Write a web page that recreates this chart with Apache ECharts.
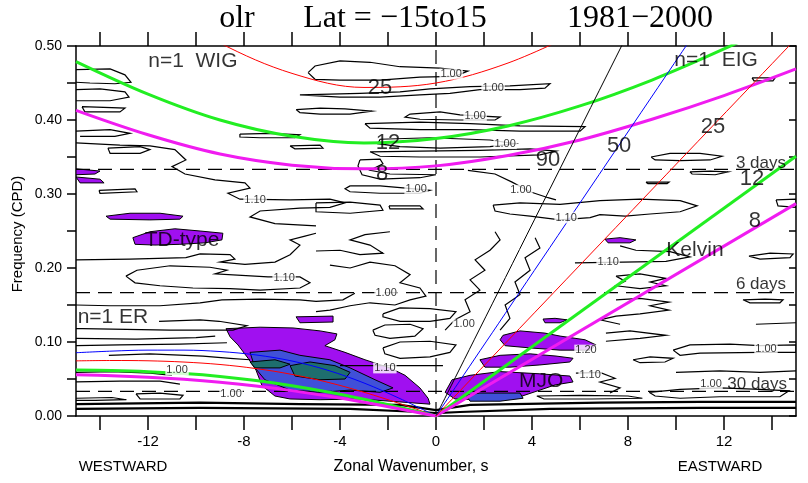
<!DOCTYPE html>
<html><head><meta charset="utf-8">
<script src="https://cdn.jsdelivr.net/npm/echarts@6/dist/echarts.min.js"></script>
<style>html,body{margin:0;padding:0;background:#fff}#c{width:808px;height:483px}</style>
</head><body><div id="c"></div>
<script>
// ---------- axis ticks ----------
var xTicks = [-14,-12,-10,-8,-6,-4,-2,0,2,4,6,8,10,12,14];
var xTickLabels = [-12,-8,-4,0,4,8,12];
var yTicks = [0,0.05,0.1,0.15,0.2,0.25,0.3,0.35,0.4,0.45,0.5];
var yTickLabels = [0,0.1,0.2,0.3,0.4,0.5];

// ---------- dispersion curves ----------
var sIG = [-15,-12,-9,-6,-3,0,3,6,9,12,15];
var ig8  = [0.413,0.380,0.354,0.339,0.334,0.338,0.352,0.373,0.401,0.433,0.469];
var ig12 = [0.479,0.435,0.400,0.378,0.369,0.375,0.392,0.419,0.454,0.496,0.542];
var sIG25 = [-12,-9,-6,-3,0,3,6];
var ig25 = [0.562,0.504,0.463,0.444,0.450,0.477,0.520];
var sER = [-15,-13.5,-12,-10.5,-9,-7.5,-6,-4.5,-3,-1.5,0];
var er8  = [0.0556,0.0544,0.0524,0.0495,0.0456,0.0405,0.0343,0.0269,0.0186,0.0095,0];
var er12 = [0.0623,0.0615,0.0599,0.0573,0.0534,0.0480,0.0410,0.0325,0.0226,0.0116,0];
var er25 = [0.0745,0.0750,0.0746,0.0729,0.0696,0.0641,0.0562,0.0455,0.0321,0.0167,0];
var er50 = [0.0855,0.0877,0.0890,0.0890,0.0871,0.0825,0.0743,0.0617,0.0446,0.0235,0];
var sKelvin = [0,15];
var kel8 = [0,0.287], kel12 = [0,0.351], kel25 = [0,0.51], kel50 = [0,0.72], kel90 = [0,0.97];
var periodDays = [3,6,30];

// ---------- shaded power regions ----------
var purpleAreas = [
 [[-8.75,0.118],[-7.33,0.12],[-5.96,0.119],[-4.83,0.115],[-4.13,0.111],[-4.21,0.103],[-4.63,0.095],[-3.79,0.086],[-2.96,0.076],[-1.92,0.065],[-1.29,0.055],[-0.67,0.038],[-0.33,0.024],[-0.25,0.016],[-1.08,0.018],[-1.92,0.02],[-3.17,0.023],[-4.83,0.022],[-6.08,0.023],[-6.71,0.027],[-7.25,0.041],[-7.5,0.062],[-7.83,0.078],[-8.25,0.096],[-8.58,0.107]],
 [[-5.83,0.134],[-4.29,0.135],[-4.29,0.127],[-5.67,0.126]],
 [[-12.63,0.241],[-11.92,0.249],[-10.88,0.253],[-9.83,0.25],[-8.88,0.247],[-8.92,0.238],[-9.63,0.234],[-10.67,0.232],[-11.71,0.231],[-12.54,0.232]],
 [[-13.75,0.27],[-12.75,0.274],[-11.5,0.274],[-10.54,0.27],[-10.67,0.266],[-11.92,0.265],[-13.58,0.266]],
 [[-15,0.334],[-14,0.331],[-14.21,0.327],[-15,0.326]],
 [[-15,0.323],[-14,0.32],[-13.83,0.315],[-14.83,0.315]],
 [[2.79,0.109],[3.5,0.115],[4.54,0.112],[5.17,0.108],[6.21,0.103],[6.67,0.096],[6.42,0.089],[5.17,0.089],[3.92,0.092],[2.88,0.095],[2.67,0.103]],
 [[1.83,0.076],[2.67,0.082],[3.92,0.084],[5,0.081],[5.71,0.078],[5.58,0.073],[4.33,0.069],[3.08,0.066],[2.04,0.066]],
 [[0.67,0.049],[1.42,0.055],[2.67,0.06],[4.33,0.057],[5.58,0.054],[5.71,0.046],[4.96,0.042],[4.33,0.035],[3.5,0.026],[1.83,0.022],[0.79,0.023],[0.38,0.032]],
 [[4.46,0.131],[4.96,0.132],[5.46,0.13],[5.17,0.126],[4.54,0.126]],
 [[7.04,0.239],[7.67,0.241],[8.33,0.238],[8.08,0.234],[7.17,0.234]]
];
var blueAreas = [
 [[-7.75,0.086],[-6.5,0.089],[-5.67,0.082],[-4.42,0.076],[-3.58,0.065],[-2.54,0.049],[-1.79,0.038],[-2.33,0.032],[-3.58,0.035],[-4.83,0.032],[-6.08,0.035],[-7.13,0.049],[-7.54,0.065]],
 [[1.25,0.028],[1.83,0.031],[3.5,0.031],[3.63,0.024],[2.67,0.02],[1.42,0.02]]
];
var tealAreas = [
 [[-6.08,0.068],[-5.25,0.073],[-4.21,0.068],[-3.58,0.059],[-3.79,0.05],[-4.83,0.049],[-5.88,0.054]],
 [[-7.75,0.073],[-6.71,0.076],[-6.08,0.07],[-6.5,0.065],[-7.54,0.065]]
];

// ---------- contour lines ----------
var contourLines = [
 [[-15,0.468],[-13.58,0.469],[-12.96,0.461],[-12.71,0.451],[-13.38,0.449],[-14.42,0.45],[-15,0.451]],
 [[-15,0.441],[-14,0.442],[-12.96,0.438],[-12.79,0.431],[-13.58,0.426],[-15,0.426]],
 [[-14.75,0.418],[-12.96,0.416],[-13.17,0.411],[-14.63,0.411],[-14.75,0.418]],
 [[-15,0.385],[-13.58,0.387],[-12.75,0.382],[-13.38,0.378],[-14.83,0.378]],
 [[-15,0.369],[-13.17,0.366],[-11.92,0.365],[-10.88,0.36],[-10.42,0.346],[-11,0.337],[-10.46,0.327],[-9.21,0.319],[-7.96,0.315],[-7.75,0.308],[-8.67,0.301],[-8.17,0.293],[-6.08,0.292],[-4.42,0.293],[-3.79,0.288],[-4.42,0.282],[-5.67,0.281],[-7.33,0.277],[-7.75,0.269],[-6.71,0.26],[-5,0.257]],
 [[-13.67,0.362],[-12.33,0.364],[-11.92,0.36],[-12.33,0.355],[-13.58,0.355],[-13.67,0.362]],
 [[-14.04,0.305],[-12.54,0.307],[-12.46,0.303],[-14,0.301],[-14.04,0.305]],
 [[-8.17,0.381],[-6.92,0.382],[-5.67,0.38],[-5.88,0.376],[-7.33,0.376],[-8.17,0.377],[-8.17,0.381]],
 [[-6.08,0.365],[-4.83,0.366],[-4.71,0.362],[-5.88,0.361],[-6.08,0.365]],
 [[-5.33,0.464],[-5.04,0.473],[-4,0.48],[-2.75,0.478],[-1.5,0.472],[0.17,0.47],[1.33,0.466],[0.79,0.459],[-0.67,0.458],[-2.33,0.454],[-4,0.454],[-5.04,0.455],[-5.33,0.464]],
 [[-5.67,0.434],[-3.17,0.436],[-1.5,0.438],[-0.25,0.442],[1.42,0.445],[3.08,0.446],[4.75,0.449],[4.54,0.443],[3.5,0.441],[1.83,0.441],[0.58,0.436],[-0.67,0.434],[-2.33,0.431],[-4,0.431],[-5.67,0.434]],
 [[-5.83,0.414],[-4.83,0.416],[-3.79,0.415],[-2.67,0.412],[-3.58,0.408],[-4.83,0.408],[-5.67,0.41],[-5.83,0.414]],
 [[-1.08,0.408],[0.17,0.411],[1,0.407],[2.67,0.404],[2.46,0.4],[1,0.4],[-0.67,0.401],[-1.29,0.404],[-1.08,0.408]],
 [[-2.96,0.395],[-0.67,0.397],[1.42,0.395],[3.5,0.392],[6.21,0.391],[6,0.385],[3.5,0.385],[1.42,0.387],[-0.67,0.387],[-2.75,0.389],[-2.96,0.395]],
 [[-2.33,0.374],[-0.25,0.376],[2.25,0.373],[3.29,0.368],[2.25,0.364],[0.17,0.362],[-1.5,0.364],[-2.42,0.368],[-2.33,0.374]],
 [[-2.75,0.357],[-0.67,0.358],[1.83,0.359],[3.92,0.361],[5,0.358],[4.33,0.353],[1.83,0.35],[-0.67,0.35],[-2.33,0.351],[-2.75,0.357]],
 [[-3.17,0.346],[-2.33,0.347],[-2.21,0.341],[-2.75,0.332],[-1.92,0.327],[0,0.326],[-0.67,0.322],[-2.33,0.32],[-3.08,0.326],[-3.25,0.338],[-3.17,0.346]],
 [[-3.58,0.311],[-2.33,0.311],[-1.25,0.308],[-0.25,0.305],[-0.67,0.301],[-2.33,0.301],[-3.58,0.303],[-3.79,0.307],[-3.58,0.311]],
 [[-5,0.288],[-3.58,0.289],[-2.33,0.285],[-2.21,0.278],[-3.58,0.274],[-5,0.276],[-5,0.288]],
 [[-1.96,0.284],[-0.67,0.284],[-0.54,0.28],[-1.92,0.28],[-1.96,0.284]],
 [[1.33,0.332],[2.46,0.327],[3.17,0.316],[3.92,0.303],[4.67,0.295],[5,0.292]],
 [[8.96,0.35],[9.75,0.355],[11,0.355],[11.92,0.351],[11.42,0.346],[10.17,0.345],[9.13,0.346],[8.96,0.35]],
 [[10.58,0.33],[11.42,0.331],[12.17,0.33],[11.63,0.326],[10.67,0.327],[10.58,0.33]],
 [[8.75,0.316],[9.71,0.316],[9.63,0.314],[8.83,0.314],[8.75,0.316]],
 [[2.38,0.285],[3.5,0.288],[5.17,0.286],[6.83,0.291],[8.5,0.293],[10.17,0.291],[10.88,0.284],[10.17,0.276],[8.92,0.273],[7.88,0.27],[6.83,0.272],[6.42,0.268],[5.17,0.265],[3.92,0.27],[3.08,0.273],[2.46,0.277],[2.38,0.285]],
 [[14.17,0.292],[15,0.293],[15,0.282],[14.25,0.284],[14.17,0.292]],
 [[13.17,0.457],[14.13,0.457],[14.04,0.453],[13.25,0.453],[13.17,0.457]],
 [[-15,0.211],[-12.75,0.212],[-10.42,0.214],[-9.83,0.219],[-8.58,0.218],[-8.38,0.212],[-9,0.208],[-7.96,0.205],[-6.71,0.208],[-6.08,0.218],[-5.67,0.231],[-6.08,0.238],[-5.46,0.243],[-5,0.247]],
 [[-12.92,0.189],[-12.46,0.197],[-11.08,0.203],[-9.42,0.201],[-8.71,0.197],[-9.21,0.192],[-7,0.188],[-5.67,0.188],[-5.25,0.18],[-5.67,0.173],[-7.33,0.17],[-8.58,0.172],[-10.13,0.173],[-11.5,0.176],[-12.54,0.18],[-12.92,0.189]],
 [[-15,0.15],[-13.58,0.149],[-11.5,0.149],[-9.83,0.153],[-8.92,0.157],[-7.33,0.158],[-5.67,0.157],[-5,0.155],[-3.88,0.157],[-3.38,0.166]],
 [[-11.54,0.128],[-9.83,0.13],[-9.04,0.128],[-7.88,0.122],[-8.46,0.116],[-11.08,0.116],[-14.71,0.118],[-15,0.118]],
 [[-15,0.095],[-13.17,0.096],[-10.67,0.097],[-8.71,0.099]],
 [[-15,0.105],[-12.5,0.104],[-10,0.106],[-9.2,0.108]],
 [[-13.63,0.082],[-11.92,0.084],[-9.71,0.081],[-8.58,0.078],[-7.75,0.076]],
 [[-15,0.059],[-13.5,0.06],[-11.9,0.058],[-11,0.055]],
 [[-15,0.046],[-13.17,0.047],[-11.5,0.047],[-10.67,0.043]],
 [[-12.5,0.03],[-11.5,0.031],[-10.54,0.028],[-10.67,0.023],[-12.33,0.023],[-12.5,0.03]],
 [[-15,0.024],[-13.5,0.025],[-12.9,0.022],[-14.2,0.021],[-15,0.021]],
 [[-5,0.223],[-4,0.224],[-3.17,0.218],[-2.21,0.22],[-2.75,0.231],[-3.58,0.238],[-2.96,0.245],[-1.92,0.249]],
 [[-4.42,0.204],[-3.58,0.2],[-2.75,0.208],[-1.71,0.203],[-1.08,0.191],[-1.5,0.18],[-0.67,0.173],[-0.42,0.162],[-1.08,0.157],[-1.71,0.15],[-2.75,0.153],[-3.58,0.149],[-4.42,0.143],[-5,0.141]],
 [[-2.21,0.138],[-1.5,0.146],[-0.25,0.145],[0.83,0.141],[0.58,0.132],[-0.25,0.128],[-1.5,0.128],[-2.21,0.134],[-2.21,0.138]],
 [[-2.63,0.116],[-2.13,0.123],[-1.08,0.124],[-0.54,0.118],[-0.88,0.108],[-1.92,0.105],[-2.54,0.109],[-2.63,0.116]],
 [[-2.21,0.092],[-1.5,0.1],[-0.25,0.101],[0.83,0.096],[0.58,0.086],[-0.25,0.08],[-1.5,0.078],[-2.13,0.084],[-2.21,0.092]],
 [[-4,0.068],[-1.5,0.068],[0.29,0.068]],
 [[0.38,0.116],[0.79,0.13],[1.42,0.141],[1.21,0.157],[1.83,0.17],[1.42,0.184],[2.04,0.197],[1.63,0.211],[2.25,0.224],[2.67,0.238],[2.46,0.249]],
 [[2.67,0.116],[3.08,0.132],[2.88,0.15],[3.5,0.164],[3.29,0.181],[3.92,0.197],[3.71,0.214],[4.33,0.227],[4.13,0.241]],
 [[13.04,0.216],[13.92,0.22],[14.88,0.219],[14.75,0.214],[13.5,0.212],[13.04,0.216]],
 [[5.79,0.207],[7.79,0.208],[9.58,0.209],[10.58,0.215],[9.75,0.222],[8.33,0.224],[7.67,0.23]],
 [[7.5,0.189],[8.5,0.192],[9.58,0.186],[8.92,0.181],[9.58,0.176],[8.5,0.172],[7.5,0.176],[7.88,0.182],[7.5,0.189]],
 [[12.79,0.157],[13.71,0.158],[14.46,0.157],[14.33,0.153],[13.08,0.153],[12.79,0.157]],
 [[7.5,0.157],[8.5,0.159],[9.71,0.154],[8.92,0.149],[9.71,0.143],[8.5,0.138],[7.5,0.135],[6.83,0.13],[7.67,0.124]],
 [[13.33,0.124],[15,0.126]],
 [[7.08,0.112],[8.08,0.115],[9.58,0.109],[8.5,0.105],[7.08,0.101]],
 [[9.88,0.089],[10.58,0.096],[12.25,0.097],[13.5,0.095],[15,0.096],[15,0.086],[13.5,0.086],[11,0.085],[10.17,0.082],[9.88,0.089]],
 [[8.21,0.076],[8.92,0.08],[9.88,0.078],[9.54,0.073],[8.5,0.072],[8.21,0.076]],
 [[10,0.059],[11.83,0.061],[13.5,0.059],[15,0.061]],
 [[8.88,0.032],[10.17,0.036],[11.83,0.038],[13.5,0.036],[14.71,0.034],[14.33,0.026],[11.83,0.026],[10.17,0.024],[9.13,0.027],[8.88,0.032]],
 [[5.83,0.058],[6.83,0.059],[7.46,0.051],[6.83,0.046],[7.67,0.038],[7.25,0.031]],
 [[4.2,0.027],[6,0.028],[8,0.027],[8.6,0.024],[6.5,0.023],[4.5,0.023],[4.2,0.027]]
];
var bandLines = [
 [[-15,0.016],[-9.83,0.018],[-5.67,0.016],[-1.5,0.015],[0,0.008],[1.42,0.015],[6.83,0.018],[11,0.019],[15,0.019]],
 [[-15,0.0095],[-9.83,0.011],[-3.58,0.0095],[-0.67,0.0054],[0,0.004],[1,0.0054],[4.75,0.0095],[11,0.011],[15,0.011]]
];

// ---------- text annotations ----------
var regionLabels = [[-10.13,0.48,'n=1  WIG'],[11.67,0.481,'n=1  EIG'],[-13.46,0.134,'n=1 ER'],[-10.58,0.238,'TD-type'],[10.79,0.224,'Kelvin'],[4.38,0.047,'MJO']];
var depthLabels = [[-2.33,0.443,'25'],[-2,0.369,'12'],[-2.25,0.327,'8'],[4.67,0.346,'90'],[7.63,0.365,'50'],[11.54,0.391,'25'],[13.17,0.32,'12'],[13.29,0.264,'8']];
var periodLabels = [[13.54,0.342,'3 days'],[13.54,0.178,'6 days'],[13.38,0.043,'30 days']];
var contourLabels = [[0.63,0.462,'1.00'],[2.38,0.443,'1.00'],[1.63,0.405,'1.00'],[2.88,0.368,'1.00'],[-0.83,0.307,'1.00'],[3.54,0.305,'1.00'],[5.42,0.268,'1.10'],[-7.54,0.292,'1.10'],[-6.33,0.186,'1.10'],[-2.08,0.166,'1.00'],[1.17,0.124,'1.00'],[-2.13,0.065,'1.10'],[-8.54,0.03,'1.00'],[-10.79,0.062,'1.00'],[6.25,0.089,'1.20'],[6.42,0.055,'1.10'],[7.17,0.208,'1.10'],[13.75,0.091,'1.00'],[11.46,0.043,'1.00']];

// ---------- build chart ----------
function zip(xs, ys){ return xs.map(function(x,i){ return [x, ys[i]]; }); }
var FONT = 'Liberation Sans';

function curve(xs, ys, color, w){
  return {type:'line', data:zip(xs,ys), smooth:0.35, symbol:'none', clip:true, silent:true,
    lineStyle:{color:color, width:w}, z:4};
}
function areaSeries(list, color){
  return {type:'custom', clip:true, silent:true, z:2,
    data:list.map(function(p){ return p[0]; }),
    renderItem:function(params, api){
      var pts = list[params.dataIndex].map(function(d){ return api.coord(d); });
      return {type:'polygon', shape:{points:pts}, style:{fill:color, stroke:'#000', lineWidth:1}};
    }};
}
function lineSetSeries(list, w){
  return {type:'custom', clip:true, silent:true, z:3,
    data:list.map(function(p){ return p[0]; }),
    renderItem:function(params, api){
      var pts = list[params.dataIndex].map(function(d){ return api.coord(d); });
      return {type:'polyline', shape:{points:pts}, style:{stroke:'#000', lineWidth:w, fill:null}};
    }};
}
function textSeries(list, size, extra){
  var lab = {show:true, position:'inside', color:'#000', fontFamily:FONT, fontSize:size,
    formatter:function(p){ return p.data[2]; }};
  if (extra) for (var k in extra) lab[k] = extra[k];
  return {type:'scatter', data:list, symbolSize:0, silent:true, z:6, label:lab};
}

var series = [];
series.push(areaSeries(purpleAreas, '#a010f0'));
series.push(areaSeries(blueAreas, '#4050d8'));
series.push(areaSeries(tealAreas, '#1e6e6e'));
series.push(lineSetSeries(contourLines, 1.2));
series.push(lineSetSeries(bandLines, 2.2));
periodDays.forEach(function(p){
  series.push({type:'line', data:[[-15,1/p],[15,1/p]], symbol:'none', silent:true, z:4,
    lineStyle:{color:'#000', width:1.2, type:[14,8]}});
});
series.push({type:'line', data:[[0,0],[0,0.5]], symbol:'none', silent:true, z:4,
  lineStyle:{color:'#000', width:1.2, type:[14,8]}});
series.push(curve(sIG, ig12, '#22ee22', 3));
series.push(curve(sIG, ig8, '#f01cf0', 3));
series.push(curve(sIG25, ig25, '#ff0000', 1));
series.push(curve(sER, er50, '#0000ff', 1));
series.push(curve(sER, er25, '#ff0000', 1));
series.push(curve(sER, er12, '#22ee22', 3));
series.push(curve(sER, er8, '#f01cf0', 3));
series.push(curve(sKelvin, kel12, '#22ee22', 3));
series.push(curve(sKelvin, kel8, '#f01cf0', 3));
series.push(curve(sKelvin, kel90, '#000000', 1));
series.push(curve(sKelvin, kel50, '#0000ff', 1));
series.push(curve(sKelvin, kel25, '#ff0000', 1));
series.push(textSeries(contourLabels, 11, {backgroundColor:'#fff', padding:[0,1]}));
series.push(textSeries(regionLabels, 21));
series.push(textSeries(depthLabels, 22));
series.push(textSeries(periodLabels, 17));

var axisLine = {show:true, onZero:false, lineStyle:{color:'#000', width:1.5}};
var option = {
  animation:false,
  backgroundColor:'#fff',
  grid:{left:76, right:12, top:46, bottom:67, show:false},
  xAxis:[
    {type:'value', min:-15, max:15, position:'bottom', axisLine:axisLine, splitLine:{show:false},
     axisTick:{show:true, customValues:xTicks, length:14, lineStyle:{color:'#000', width:1.5}},
     axisLabel:{show:true, customValues:xTickLabels, margin:18, color:'#000', fontFamily:FONT, fontSize:15,
       formatter:function(v){ return String(v); }}},
    {type:'value', min:-15, max:15, position:'top', axisLine:axisLine, splitLine:{show:false},
     axisTick:{show:true, customValues:xTicks, length:14, lineStyle:{color:'#000', width:1.5}},
     axisLabel:{show:false}}
  ],
  yAxis:[
    {type:'value', min:0, max:0.5, position:'left', axisLine:axisLine, splitLine:{show:false},
     axisTick:{show:true, customValues:yTicks, length:9, lineStyle:{color:'#000', width:1.5}},
     axisLabel:{show:true, customValues:yTickLabels, margin:14, color:'#000', fontFamily:FONT, fontSize:14,
       formatter:function(v){ return v.toFixed(2); }}},
    {type:'value', min:0, max:0.5, position:'right', axisLine:axisLine, splitLine:{show:false},
     axisTick:{show:true, inside:true, customValues:yTicks, length:7, lineStyle:{color:'#000', width:1.5}},
     axisLabel:{show:false}}
  ],
  graphic:[
    {type:'text', x:237, y:19, style:{text:'olr', font:'32px "Liberation Serif"', fill:'#000', textAlign:'center', textVerticalAlign:'middle'}},
    {type:'text', x:395, y:19, style:{text:'Lat = \u221215to15', font:'32px "Liberation Serif"', fill:'#000', textAlign:'center', textVerticalAlign:'middle'}},
    {type:'text', x:640, y:19, style:{text:'1981\u22122000', font:'32px "Liberation Serif"', fill:'#000', textAlign:'center', textVerticalAlign:'middle'}},
    {type:'text', x:18, y:234, rotation:Math.PI/2, style:{text:'Frequency (CPD)', font:'15px "Liberation Sans"', fill:'#000', textAlign:'center', textVerticalAlign:'middle'}},
    {type:'text', x:411, y:467, style:{text:'Zonal Wavenumber, s', font:'16px "Liberation Sans"', fill:'#000', textAlign:'center', textVerticalAlign:'middle'}},
    {type:'text', x:123, y:467, style:{text:'WESTWARD', font:'15px "Liberation Sans"', fill:'#000', textAlign:'center', textVerticalAlign:'middle'}},
    {type:'text', x:720, y:467, style:{text:'EASTWARD', font:'15px "Liberation Sans"', fill:'#000', textAlign:'center', textVerticalAlign:'middle'}}
  ],
  series:series
};
var chart = echarts.init(document.getElementById('c'), null, {renderer:'canvas'});
chart.setOption(option);
</script></body></html>
